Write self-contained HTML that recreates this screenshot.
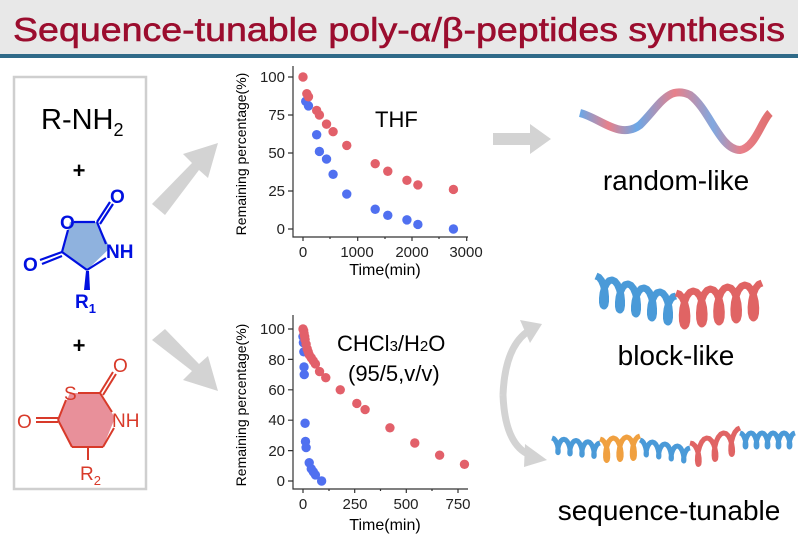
<!DOCTYPE html>
<html><head><meta charset="utf-8"><style>
body{margin:0;background:#fff;width:798px;height:539px;overflow:hidden;font-family:"Liberation Sans",sans-serif}
</style></head><body>
<svg width="798" height="539" viewBox="0 0 798 539" xmlns="http://www.w3.org/2000/svg" font-family="Liberation Sans, sans-serif">
<rect x="0" y="0" width="798" height="55" fill="#e8e8e8"/>
<rect x="0" y="54" width="798" height="4" fill="#2f6a88"/>
<text x="399" y="41" text-anchor="middle" font-size="33.5" fill="#9b0d2e" stroke="#9b0d2e" stroke-width="0.6" textLength="772" lengthAdjust="spacingAndGlyphs">Sequence-tunable poly-α/β-peptides synthesis</text>

<rect x="14" y="77" width="132" height="412" fill="none" stroke="#cfcfcf" stroke-width="2.5"/>
<text x="41" y="129" font-size="29">R-NH<tspan font-size="18" dy="7">2</tspan></text>
<text x="79" y="178" font-size="22" font-weight="bold" text-anchor="middle">+</text>
<polygon points="70,222 97,222 110,248 87,270 62,252" fill="#8fb2de"/>
<g stroke="#0010e0" stroke-width="2.2" fill="none">
<line x1="74" y1="222" x2="95" y2="222"/><line x1="97" y1="222" x2="110" y2="202"/><line x1="100" y1="224" x2="113" y2="204"/>
<line x1="97" y1="222" x2="106" y2="244"/><line x1="106" y1="258" x2="87" y2="270"/>
<line x1="62" y1="252" x2="68" y2="230"/><line x1="62" y1="252" x2="40" y2="260"/><line x1="62" y1="256" x2="42" y2="264"/>
<line x1="62" y1="252" x2="87" y2="270"/></g>
<polygon points="86,271 89,271 90,290 84,290" fill="#0010e0"/>
<g fill="#0010e0" font-size="19" font-weight="bold">
<text x="60" y="229">O</text><text x="110" y="203">O</text><text x="106" y="258">NH</text><text x="23" y="271">O</text>
<text x="75" y="308">R<tspan font-size="13" dy="5">1</tspan></text></g>
<text x="79" y="353" font-size="22" font-weight="bold" text-anchor="middle">+</text>
<polygon points="70,393 100,393 115,418 103,447 72,447 58,420" fill="#e8909a"/>
<g stroke="#d83a2a" stroke-width="2" fill="none">
<line x1="78" y1="393" x2="100" y2="393"/><line x1="100" y1="393" x2="113" y2="372"/><line x1="103" y1="395" x2="116" y2="374"/>
<line x1="100" y1="393" x2="112" y2="412"/><line x1="114" y1="428" x2="103" y2="447"/><line x1="103" y1="447" x2="72" y2="447"/>
<line x1="72" y1="447" x2="58" y2="420"/><line x1="58" y1="420" x2="66" y2="400"/><line x1="58" y1="418" x2="36" y2="418"/><line x1="58" y1="422" x2="36" y2="422"/>
<line x1="88" y1="447" x2="88" y2="460"/></g>
<g fill="#d83a2a" font-size="19"><text x="64" y="400">S</text><text x="113" y="372">O</text><text x="112" y="427">NH</text><text x="17" y="428">O</text>
<text x="80" y="480">R<tspan font-size="13" dy="5">2</tspan></text></g>

<g fill="#d3d3d3">
<polygon points="152,204 192,163 183,154 218,143 208,178 199,170 165,215"/>
<polygon points="152,340 165,329 199,364 208,356 218,391 183,380 192,371"/>
<polygon points="493,133 530,133 530,124 551,139 530,154 530,145 493,145"/>
</g>
<path d="M503,395 Q505,345 530,330" stroke="#d3d3d3" stroke-width="7" fill="none"/>
<polygon points="520,320 542,324 530,343" fill="#d3d3d3"/>
<path d="M503,395 Q505,445 530,455" stroke="#d3d3d3" stroke-width="7" fill="none"/>
<polygon points="525,444 547,460 524,467" fill="#d3d3d3"/>

<g stroke="#333" stroke-width="1.2" fill="none">
<path d="M293,66 V237 H468"/>
<path d="M293,77 h-5 M293,115 h-5 M293,153 h-5 M293,191 h-5 M293,229 h-5"/>
<path d="M303,237 v4 M357.7,237 v4 M412,237 v4 M466.7,237 v4 M330,237 v2 M385,237 v2 M439,237 v2"/>
</g>
<g font-size="15" fill="#222" text-anchor="end"><text x="285" y="82">100</text><text x="285" y="120">75</text><text x="285" y="158">50</text><text x="285" y="196">25</text><text x="285" y="234">0</text></g>
<g font-size="15" fill="#222" text-anchor="middle"><text x="303" y="257">0</text><text x="357" y="257">1000</text><text x="412" y="257">2000</text><text x="466" y="257">3000</text></g>
<text x="385" y="275" font-size="16" text-anchor="middle">Time(min)</text>
<text transform="translate(246,154) rotate(-90)" font-size="14" text-anchor="middle">Remaining percentage(%)</text>
<text x="375" y="127" font-size="22">THF</text>
<g id="c1"></g>

<g stroke="#333" stroke-width="1.2" fill="none">
<path d="M293,315 V489 H468"/>
<path d="M293,329 h-5 M293,359.4 h-5 M293,389.8 h-5 M293,420.2 h-5 M293,450.6 h-5 M293,481 h-5"/>
<path d="M303,489 v4 M354.7,489 v4 M406.3,489 v4 M458,489 v4 M329,489 v2 M380.5,489 v2 M432,489 v2"/>
</g>
<g font-size="15" fill="#222" text-anchor="end"><text x="285" y="334">100</text><text x="285" y="365">80</text><text x="285" y="395">60</text><text x="285" y="425">40</text><text x="285" y="456">20</text><text x="285" y="486">0</text></g>
<g font-size="15" fill="#222" text-anchor="middle"><text x="303" y="509">0</text><text x="355" y="509">250</text><text x="406" y="509">500</text><text x="458" y="509">750</text></g>
<text x="385" y="530" font-size="16" text-anchor="middle">Time(min)</text>
<text transform="translate(246,405) rotate(-90)" font-size="14" text-anchor="middle">Remaining percentage(%)</text>
<text x="337" y="351" font-size="22">CHCl<tspan font-size="15">3</tspan>/H<tspan font-size="15">2</tspan>O</text>
<text x="348" y="381" font-size="22">(95/5,v/v)</text>
<g id="c2"></g>

<defs><linearGradient id="rb" x1="0" x2="1"><stop offset="0" stop-color="#6aa8e8"/><stop offset=".15" stop-color="#e8808a"/><stop offset=".3" stop-color="#6aa8e8"/><stop offset=".5" stop-color="#e8808a"/><stop offset=".7" stop-color="#80a8e0"/><stop offset=".85" stop-color="#e8808a"/><stop offset="1" stop-color="#e07070"/></linearGradient></defs>
<path d="M580,113 C600,118 620,140 640,125 C660,105 668,85 690,95 C710,110 720,150 740,150 C755,148 762,120 770,113" stroke="url(#rb)" stroke-width="8" fill="none"/>
<text x="676" y="190" font-size="28" text-anchor="middle">random-like</text>
<g id="hx"></g>
<text x="676" y="365" font-size="28" text-anchor="middle">block-like</text>
<text x="669" y="520" font-size="28" text-anchor="middle">sequence-tunable</text>
</svg>
<script>
function pts(id,data,x0,sx,y0,sy,col){var g=document.getElementById(id),s='';data.forEach(function(p){s+='<circle cx="'+(x0+p[0]*sx)+'" cy="'+(y0-p[1]*sy)+'" r="4.7" fill="'+col+'"/>';});g.innerHTML+=s;}
var R='#e2606a',B='#5070f0';
pts('c1',[[50,84],[100,81],[250,62],[300,51],[430,46],[550,36],[800,23],[1320,13],[1550,9],[1900,6],[2100,3],[2750,0]],303,0.0547,229,1.52,B);
pts('c1',[[0,100],[70,89],[100,87],[250,78],[300,75],[430,69],[550,64],[800,55],[1320,43],[1550,38],[1900,32],[2100,29],[2750,26]],303,0.0547,229,1.52,R);
pts('c2',[[0,95],[2,91],[4,85],[5,75],[6,70],[10,38],[12,26],[15,22],[30,12],[40,8],[50,6],[60,4],[90,0]],303,0.207,481,1.52,B);
pts('c2',[[0,100],[3,99],[5,97],[8,95],[10,93],[15,90],[20,87],[25,85],[30,83],[40,81],[50,79],[60,77],[80,72],[110,68],[180,60],[260,51],[300,47],[420,35],[540,25],[660,17],[780,11]],303,0.207,481,1.52,R);
// helix coil: x0,y0 -> x1,y1, n turns, amplitude, color, width
function coil(x0,y0,x1,y1,n,a,col,w){var s='';var steps=n*16;var d='';for(var i=0;i<=steps;i++){var t=i/steps;var ph=t*n*2*Math.PI;var x=x0+(x1-x0)*t+Math.sin(ph)*a*0.35;var y=y0+(y1-y0)*t-Math.cos(ph)*a;d+=(i?'L':'M')+x.toFixed(1)+','+y.toFixed(1);}
return '<path d="'+d+'" stroke="'+col+'" stroke-width="'+w+'" fill="none" stroke-linejoin="round"/>';}
var h='';
h+=coil(596,290,676,310,5,14,'#4a9ad8',7);
h+=coil(676,310,762,300,5,17,'#e06464',7);
h+=coil(552,445,600,450,4,7,'#4a9ad8',5);
h+=coil(600,450,640,447,3,11,'#f0a040',5);
h+=coil(640,447,690,455,4,7,'#4a9ad8',5);
h+=coil(690,455,740,440,3,12,'#e06464',5);
h+=coil(740,440,795,440,5,7,'#4a9ad8',5);
document.getElementById('hx').innerHTML=h;
</script>
</body></html>
